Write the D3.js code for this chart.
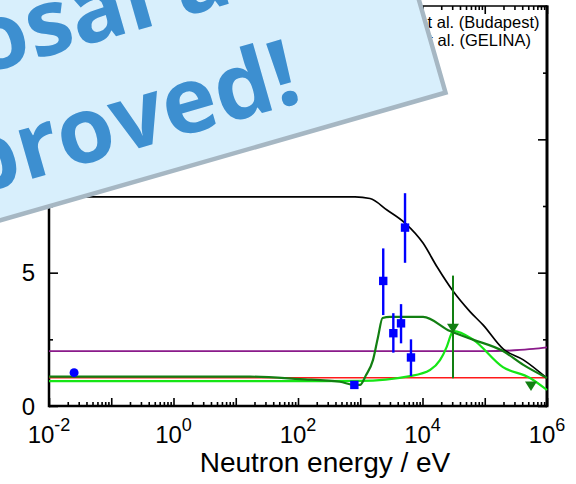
<!DOCTYPE html>
<html>
<head>
<meta charset="utf-8">
<script src="https://cdn.jsdelivr.net/npm/d3@7"></script>
<style>
body { margin: 0; background: #fff; }
svg { display: block; font-family: Arial, "Liberation Sans", sans-serif; }
</style>
</head>
<body>
<svg id="chart" width="576" height="484"></svg>
<script>
// curves: [energy eV, value]
const blackCurve = [[0.01,7.84],[824,7.84],[1435,7.78],[2690,7.35],[5250,6.86],[10200,6.11],[17100,5.22],[30900,4.31],[57900,3.54],[93800,3.04],[199000,2.13],[417000,1.73],[1e6,1.04]];
const darkGreenCurve = [[0.01,1.10],[17,1.10],[108,1.01],[473,0.91],[794,0.79],[990,0.79],[1240,1.16],[1600,1.72],[1930,2.59],[2280,3.30],[3000,3.34],[10200,3.34],[27700,2.81],[64700,2.49],[196000,2.06],[417000,1.54],[1e6,1.05]];
const lightGreenCurve = [[0.01,0.93],[108,0.93],[990,0.94],[6300,1.12],[13200,1.35],[19100,1.72],[24500,2.22],[29400,2.72],[32100,2.81],[64700,2.49],[196000,1.46],[533000,1.05],[1e6,0.60]];
const purpleCurve = [[0.01,2.06],[100000,2.06],[300000,2.09],[600000,2.14],[1e6,2.2]];
const redCurve = [[0.01,1.06],[1e6,1.06]];

// measured points
const budapestE  = [804, 2340, 3400, 4520, 5240, 6530];
const budapestV  = [0.79, 4.69, 2.73, 3.10, 6.69, 1.82];
const budapestLo = [0.79, 3.41, 2.00, 2.35, 5.37, 1.13];
const budapestHi = [0.79, 5.91, 3.48, 3.82, 7.98, 2.50];

const thermalE = [0.0253];
const thermalV = [1.25];

const gelinaE  = [30900, 553000];
const gelinaV  = [2.92, 0.75];
const gelinaLo = [1.04, 0.75];
const gelinaHi = [4.89, 0.75];

const xMajor = [1e-2,1e-1,1e0,1e1,1e2,1e3,1e4,1e5,1e6];
const xLabelExp = [-2, 0, 2, 4, 6];
const yMajor = [0, 5, 10, 15];
const yMinor = [2.5, 7.5, 12.5];
const yLabels = [0, 5];

const legendNames = ["Belgya et al. (Budapest)", "Schillebeeckx et al. (GELINA)"];

const xMinor = [];
for (let d = -2; d < 6; d++) for (let k = 2; k <= 9; k++) xMinor.push(k * Math.pow(10, d));

const pLeft = 49, pRight = 547, pTop = 6, pBottom = 406;

const svg = d3.select("#chart");
const x = d3.scaleLog().domain([1e-2, 1e6]).range([pLeft, pRight]);
const y = d3.scaleLinear().domain([0, 15]).range([pBottom, pTop]);

function tickAxis(axis, tr, vals, size) {
    const g = svg.append("g").attr("transform", tr)
        .call(axis.tickValues(vals).tickSize(size).tickSizeOuter(0).tickFormat(""));
    g.select(".domain").remove();
    g.selectAll(".tick line").attr("stroke", "#000").attr("stroke-width", 1.6);
    return g;
}

tickAxis(d3.axisBottom(x), "translate(0," + pBottom + ")", xMajor, -8);
tickAxis(d3.axisBottom(x), "translate(0," + pBottom + ")", xMinor, -4);
tickAxis(d3.axisTop(x), "translate(0," + pTop + ")", xMajor, -8);
tickAxis(d3.axisTop(x), "translate(0," + pTop + ")", xMinor, -4);
tickAxis(d3.axisLeft(y), "translate(" + pLeft + ",0)", yMajor, -9);
tickAxis(d3.axisLeft(y), "translate(" + pLeft + ",0)", yMinor, -4);
tickAxis(d3.axisRight(y), "translate(" + pRight + ",0)", yMajor, -9);
tickAxis(d3.axisRight(y), "translate(" + pRight + ",0)", yMinor, -4);

// frame
svg.append("line").attr("x1", pLeft).attr("x2", pRight).attr("y1", pTop).attr("y2", pTop)
    .attr("stroke", "#000").attr("stroke-width", 1.5);
svg.append("line").attr("x1", pLeft).attr("x2", pRight).attr("y1", pBottom).attr("y2", pBottom)
    .attr("stroke", "#000").attr("stroke-width", 2.5);
svg.append("line").attr("x1", pLeft).attr("x2", pLeft).attr("y1", pTop).attr("y2", pBottom + 1.2)
    .attr("stroke", "#000").attr("stroke-width", 2.5);
svg.append("line").attr("x1", pRight).attr("x2", pRight).attr("y1", pTop - 0.7).attr("y2", pBottom + 1.2)
    .attr("stroke", "#000").attr("stroke-width", 3);

// tick labels
xLabelExp.forEach(function(e) {
    const t = svg.append("text").attr("x", x(Math.pow(10, e))).attr("y", 443)
        .attr("text-anchor", "middle").attr("font-size", 24).attr("fill", "#000");
    t.append("tspan").text("10");
    t.append("tspan").attr("dy", -12).attr("font-size", 18).text(e);
});
yLabels.forEach(function(v) {
    svg.append("text").attr("x", 35).attr("y", y(v) + 8.6).attr("text-anchor", "end")
        .attr("font-size", 24).attr("fill", "#000").text(v);
});
svg.append("text").attr("x", 325).attr("y", 472).attr("text-anchor", "middle")
    .attr("font-size", 28).attr("fill", "#000").text("Neutron energy / eV");

// curves
const line = d3.line().x(d => x(d[0])).y(d => y(d[1])).curve(d3.curveMonotoneX);
function curve(data, color, w) {
    svg.append("path").attr("d", line(data)).attr("fill", "none")
        .attr("stroke", color).attr("stroke-width", w);
}
curve(purpleCurve, "#8a1a8a", 1.8);
curve(redCurve, "#ff1a1a", 1.6);
curve(blackCurve, "#000", 1.7);
curve(lightGreenCurve, "#16e616", 2.2);
curve(darkGreenCurve, "#127f12", 2.2);

// error bars and markers
svg.selectAll(".bErr").data(budapestE).enter().append("line")
    .attr("x1", d => x(d)).attr("x2", d => x(d))
    .attr("y1", (d, i) => y(budapestLo[i])).attr("y2", (d, i) => y(budapestHi[i]))
    .attr("stroke", "#0000ff").attr("stroke-width", 2.4);
svg.selectAll(".bPt").data(budapestE).enter().append("rect")
    .attr("x", d => x(d) - 4.2).attr("y", (d, i) => y(budapestV[i]) - 4.2)
    .attr("width", 8.4).attr("height", 8.4).attr("fill", "#0000ff");

svg.selectAll(".tPt").data(thermalE).enter().append("circle")
    .attr("cx", d => x(d)).attr("cy", (d, i) => y(thermalV[i])).attr("r", 4.5)
    .attr("fill", "#0000ff");

svg.selectAll(".gErr").data(gelinaE).enter().append("line")
    .attr("x1", d => x(d)).attr("x2", d => x(d))
    .attr("y1", (d, i) => y(gelinaLo[i])).attr("y2", (d, i) => y(gelinaHi[i]))
    .attr("stroke", "#127f12").attr("stroke-width", 2);
const tri = "M-6,-4.5L6,-4.5L0,5Z";
svg.selectAll(".gPt").data(gelinaE).enter().append("path")
    .attr("d", tri)
    .attr("transform", (d, i) => "translate(" + x(d) + "," + y(gelinaV[i]) + ")")
    .attr("fill", "#127f12");

// legend
const legEnds = [539.5, 531];
const legY = [28, 46];
legendNames.forEach(function(name, i) {
    const t = svg.append("text").attr("x", legEnds[i]).attr("y", legY[i])
        .attr("text-anchor", "end").attr("font-size", 16.5).attr("fill", "#000").text(name);
    const sx = legEnds[i] - t.node().getComputedTextLength() - 14;
    if (i === 0) {
        svg.append("rect").attr("x", sx - 4).attr("y", legY[i] - 10).attr("width", 8).attr("height", 8).attr("fill", "#0000ff");
    } else {
        svg.append("path").attr("d", tri).attr("transform", "translate(" + sx + "," + (legY[i] - 6) + ")").attr("fill", "#127f12");
    }
});

// banner
const banner = svg.append("g").attr("transform", "translate(448,94) rotate(-16)");
banner.append("rect").attr("x", -900).attr("y", -318).attr("width", 898).attr("height", 316)
    .attr("fill", "#d8effc").attr("stroke", "#a6b7c3").attr("stroke-width", 4.5);
banner.append("text").attr("x", -179).attr("y", -147).attr("text-anchor", "end")
    .attr("font-family", "'Open Sans'").attr("font-weight", 700).attr("font-size", 92)
    .attr("fill", "#3d8fd0").text("Proposal a");
banner.append("text").attr("x", -140).attr("y", -33).attr("text-anchor", "end")
    .attr("font-family", "'Open Sans'").attr("font-weight", 700).attr("font-size", 92)
    .attr("fill", "#3d8fd0").text("approved!");
</script>
</body>
</html>
